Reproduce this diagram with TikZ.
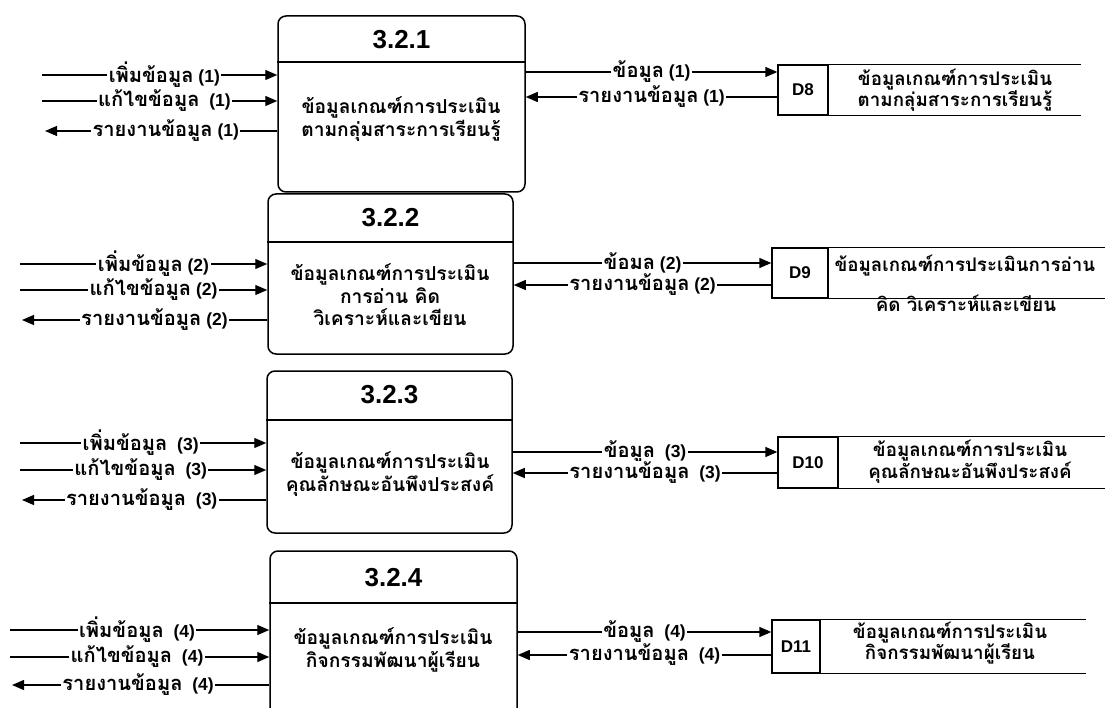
\documentclass[tikz,border=0pt]{standalone}
\usepackage{fontspec}
\setmainfont{Liberation Sans}
\newfontfamily\thaifont[Script=Thai,Scale=1.15]{Loma}
\newcommand\T[1]{{\thaifont #1}}
\usetikzlibrary{arrows.meta}
\begin{document}
\begin{tikzpicture}[x=1pt,y=-1pt,
  proc/.style={draw, line width=1.5pt, rounded corners=8pt},
  ttl/.style={font=\bfseries\fontsize{26}{28}\selectfont},
  body/.style={align=center, font=\bfseries\fontsize{16.7}{22.5}\selectfont},
  lbl/.style={fill=white, inner sep=1.5pt, font=\bfseries\fontsize{17.5}{20}\selectfont},
  arr/.style={line width=1.3pt, -{Triangle[length=12pt,width=10pt]}},
  idcell/.style={draw, line width=1.3pt, font=\bfseries\fontsize{17}{20}\selectfont, inner sep=0pt},
  stxt/.style={align=center, font=\bfseries\fontsize{16.3}{20.5}\selectfont},
  sline/.style={line width=1.3pt},
  divl/.style={line width=1.5pt}
]
\clip (0,0) rectangle (1105,708);
\fill[white] (0,0) rectangle (1105,708);

% ---------- 3.2.1 ----------
\node[proc, minimum width=247pt, minimum height=176pt] (p1) at (401.5,104) {};
\node[ttl] (t1) at (401.5,40) {3.2.1};
\draw[divl] (p1.west |- 0,62) -- (p1.east |- 0,62);
\node[body] (b1) at (401,119) {\T{ข้อมูลเกณฑ์การประเมิน}\\\T{ตามกลุ่มสาระการเรียนรู้}};
\coordinate (l1a) at (42,75);
\coordinate (l1b) at (42,101);
\coordinate (l1c) at (45,131);
\draw[arr] (l1a) -- (l1a -| p1.west) node[lbl,pos=0.52] {\T{เพิ่มข้อมูล} (1)};
\draw[arr] (l1b) -- (l1b -| p1.west) node[lbl,pos=0.52] {\T{แก้ไขข้อมูล}~~(1)};
\draw[arr] (l1c -| p1.west) -- (l1c) node[lbl,pos=0.48] {\T{รายงานข้อมูล} (1)};
\node[idcell, minimum width=50pt, minimum height=50pt] (s1) at (803,90) {D8};
\draw[sline] (s1.north east) -- ++(252,0);
\draw[sline] (s1.south east) -- ++(252,0);
\node[stxt] (st1) at (955,90) {\T{ข้อมูลเกณฑ์การประเมิน}\\\T{ตามกลุ่มสาระการเรียนรู้}};
\draw[arr] (p1.east |- 0,72) -- (s1.west |- 0,72) node[lbl,pos=0.5] {\T{ข้อมูล} (1)};
\draw[arr] (s1.west |- 0,97) -- (p1.east |- 0,97) node[lbl,pos=0.5] {\T{รายงานข้อมูล} (1)};

% ---------- 3.2.2 ----------
\node[proc, minimum width=245pt, minimum height=160pt] (p2) at (390.5,274) {};
\node[ttl] (t2) at (390.5,218) {3.2.2};
\draw[divl] (p2.west |- 0,242) -- (p2.east |- 0,242);
\node[body] (b2) at (390,295) {\T{ข้อมูลเกณฑ์การประเมิน}\\\T{การอ่าน คิด}\\\T{วิเคราะห์และเขียน}};
\coordinate (l2a) at (20,264);
\coordinate (l2b) at (20,290);
\coordinate (l2c) at (22,320);
\draw[arr] (l2a) -- (l2a -| p2.west) node[lbl,pos=0.54] {\T{เพิ่มข้อมูล} (2)};
\draw[arr] (l2b) -- (l2b -| p2.west) node[lbl,pos=0.54] {\T{แก้ไขข้อมูล} (2)};
\draw[arr] (l2c -| p2.west) -- (l2c) node[lbl,pos=0.46] {\T{รายงานข้อมูล} (2)};
\node[idcell, minimum width=56pt, minimum height=50pt] (s2) at (800,273) {D9};
\draw[sline] (s2.north east) -- ++(280,0);
\node[stxt] (st2b) at (966,303) {\T{คิด วิเคราะห์และเขียน}};
\draw[sline] (s2.south east) -- ++(280,0);
\node[stxt, anchor=north west] (st2a) at (831,252) {\T{ข้อมูลเกณฑ์การประเมินการอ่าน}};
\draw[arr] (p2.east |- 0,263) -- (s2.west |- 0,263) node[lbl,pos=0.5] {\T{ข้อมล} (2)};
\draw[arr] (s2.west |- 0,285) -- (p2.east |- 0,285) node[lbl,pos=0.5] {\T{รายงานข้อมูล} (2)};

% ---------- 3.2.3 ----------
\node[proc, minimum width=245pt, minimum height=162pt] (p3) at (389.5,452) {};
\node[ttl] (t3) at (389.5,395) {3.2.3};
\draw[divl] (p3.west |- 0,420) -- (p3.east |- 0,420);
\node[body] (b3) at (390,474) {\T{ข้อมูลเกณฑ์การประเมิน}\\\T{คุณลักษณะอันพึงประสงค์}};
\coordinate (l3a) at (20,443);
\coordinate (l3b) at (20,470);
\coordinate (l3c) at (22,500);
\draw[arr] (l3a) -- (l3a -| p3.west) node[lbl,pos=0.49] {\T{เพิ่มข้อมูล}~~(3)};
\draw[arr] (l3b) -- (l3b -| p3.west) node[lbl,pos=0.49] {\T{แก้ไขข้อมูล}~~(3)};
\draw[arr] (l3c -| p3.west) -- (l3c) node[lbl,pos=0.51] {\T{รายงานข้อมูล}~~(3)};
\node[idcell, minimum width=60pt, minimum height=51pt] (s3) at (808,462.5) {D10};
\draw[sline] (s3.north east) -- ++(270,0);
\draw[sline] (s3.south east) -- ++(270,0);
\node[stxt] (st3) at (970,462) {\T{ข้อมูลเกณฑ์การประเมิน}\\\T{คุณลักษณะอันพึงประสงค์}};
\draw[arr] (p3.east |- 0,452) -- (s3.west |- 0,452) node[lbl,pos=0.5] {\T{ข้อมูล}~~(3)};
\draw[arr] (s3.west |- 0,473) -- (p3.east |- 0,473) node[lbl,pos=0.5] {\T{รายงานข้อมูล}~~(3)};

% ---------- 3.2.4 ----------
\node[proc, minimum width=247pt, minimum height=180pt] (p4) at (393.5,641) {};
\node[ttl] (t4) at (393.5,578) {3.2.4};
\draw[divl] (p4.west |- 0,603) -- (p4.east |- 0,603);
\node[body] (b4) at (393,650) {\T{ข้อมูลเกณฑ์การประเมิน}\\\T{กิจกรรมพัฒนาผู้เรียน}};
\coordinate (l4a) at (10,630);
\coordinate (l4b) at (10,657);
\coordinate (l4c) at (12,685);
\draw[arr] (l4a) -- (l4a -| p4.west) node[lbl,pos=0.49] {\T{เพิ่มข้อมูล}~~(4)};
\draw[arr] (l4b) -- (l4b -| p4.west) node[lbl,pos=0.49] {\T{แก้ไขข้อมูล}~~(4)};
\draw[arr] (l4c -| p4.west) -- (l4c) node[lbl,pos=0.51] {\T{รายงานข้อมูล}~~(4)};
\node[idcell, minimum width=48pt, minimum height=53pt] (s4) at (796,646.5) {D11};
\draw[sline] (s4.north east) -- ++(265,0);
\draw[sline] (s4.south east) -- ++(265,0);
\node[stxt] (st4) at (950,643) {\T{ข้อมูลเกณฑ์การประเมิน}\\\T{กิจกรรมพัฒนาผู้เรียน}};
\draw[arr] (p4.east |- 0,632) -- (s4.west |- 0,632) node[lbl,pos=0.5] {\T{ข้อมูล}~~(4)};
\draw[arr] (s4.west |- 0,655) -- (p4.east |- 0,655) node[lbl,pos=0.5] {\T{รายงานข้อมูล}~~(4)};
\end{tikzpicture}
\end{document}
